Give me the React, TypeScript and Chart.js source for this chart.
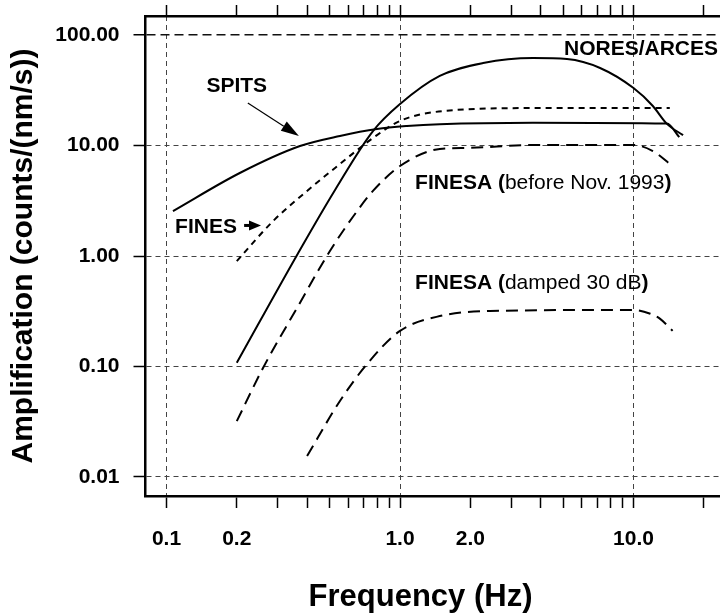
import React, { useEffect, useRef } from 'react';
import Chart from 'chart.js/auto';

// ---- data ----
const noresX = [0.2, 0.366, 0.527, 0.766, 1.0, 1.48, 2.27, 3.71, 5.19, 7.19, 10, 12.1, 13.9, 16.3];
const noresY = [0.108, 1.06, 3.96, 13.5, 23.7, 42.6, 55.8, 61.9, 60.6, 50.3, 33.1, 22.8, 15.7, 12.4];

const spitsX = [0.1066, 0.206, 0.373, 0.553, 0.797, 1.07, 1.48, 3.71, 13.9, 15.7];
const spitsY = [2.55, 5.64, 9.89, 12.2, 14.1, 15.0, 15.6, 16.1, 15.8, 11.9];

const finesX = [0.2, 0.286, 0.4, 0.553, 0.766, 1.0, 1.53, 3.71, 14.3];
const finesY = [0.9, 2.07, 3.88, 6.8, 11.7, 16.7, 20.5, 21.8, 21.8];

const finesaX = [0.2, 0.259, 0.362, 0.501, 0.655, 0.766, 1.0, 1.48, 1.94, 3.71, 10, 12.1, 14.7];
const finesaY = [0.032, 0.097, 0.338, 1.11, 2.55, 3.88, 6.52, 9.3, 9.5, 10.1, 10.1, 8.9, 6.5];

const dampedX = [0.4, 0.553, 0.722, 1.0, 1.48, 2.43, 10, 11.8, 13.0, 14.7];
const dampedY = [0.0155, 0.0487, 0.105, 0.21, 0.286, 0.318, 0.325, 0.3, 0.27, 0.21];

const xTicks = [0.1, 0.2, 0.3, 0.4, 0.5, 0.6, 0.7, 0.8, 0.9, 1, 2, 3, 4, 5, 6, 7, 8, 9, 10, 20];
const xTickLabels = ['0.1', '0.2', '', '', '', '', '', '', '', '1.0', '2.0', '', '', '', '', '', '', '', '10.0', ''];
const xGridValues = [0.1, 1, 10];

const yTicks = [0.01, 0.1, 1, 10, 100];
const yTickLabels = ['0.01', '0.10', '1.00', '10.00', '100.00'];

const X_MIN = 0.0813;
const X_MAX = 23.46;
const Y_MIN = 0.00673;
const Y_MAX = 148.6;

const FONT = '"Liberation Sans", Arial, Helvetica, sans-serif';

const pts = (xs: number[], ys: number[]) => xs.map((x, i) => ({ x, y: ys[i] }));

function drawArrow(ctx: CanvasRenderingContext2D, x1: number, y1: number, x2: number, y2: number, headLen: number, headW: number, lw: number) {
  const ang = Math.atan2(y2 - y1, x2 - x1);
  const bx = x2 - headLen * Math.cos(ang);
  const by = y2 - headLen * Math.sin(ang);
  ctx.save();
  ctx.strokeStyle = '#000';
  ctx.fillStyle = '#000';
  ctx.lineWidth = lw;
  ctx.beginPath();
  ctx.moveTo(x1, y1);
  ctx.lineTo(bx, by);
  ctx.stroke();
  ctx.beginPath();
  ctx.moveTo(x2, y2);
  ctx.lineTo(bx + (headW / 2) * Math.sin(ang), by - (headW / 2) * Math.cos(ang));
  ctx.lineTo(bx - (headW / 2) * Math.sin(ang), by + (headW / 2) * Math.cos(ang));
  ctx.closePath();
  ctx.fill();
  ctx.restore();
}

function drawMixed(ctx: CanvasRenderingContext2D, x: number, y: number, parts: [string, boolean][], size: number) {
  let cx = x;
  for (const [t, bold] of parts) {
    ctx.font = `${bold ? 'bold ' : ''}${size}px ${FONT}`;
    ctx.fillText(t, cx, y);
    cx += ctx.measureText(t).width;
  }
}

const annotations = {
  id: 'annotations',
  afterDatasetsDraw(chart: any) {
    const { ctx, scales, chartArea } = chart;
    const sx = scales.x;
    const sy = scales.y;
    const px = (v: number) => sx.getPixelForValue(v);
    const py = (v: number) => sy.getPixelForValue(v);
    ctx.save();
    ctx.fillStyle = '#000';
    ctx.textBaseline = 'middle';

    ctx.textAlign = 'right';
    ctx.font = `bold 21px ${FONT}`;
    ctx.fillText('NORES/ARCES', px(23.0), py(75));

    ctx.textAlign = 'center';
    ctx.fillText('SPITS', px(0.2), py(34.5));
    drawArrow(ctx, px(0.223), py(24.2), px(0.369), py(12.2), 18, 11, 1.2);

    ctx.textAlign = 'left';
    ctx.fillText('FINES', px(0.1088), py(1.83));
    drawArrow(ctx, px(0.215), py(1.89), px(0.254), py(1.89), 12, 10, 3);

    drawMixed(ctx, px(1.16), py(4.58), [['FINESA (', true], ['before Nov. 1993', false], [')', true]], 21);
    drawMixed(ctx, px(1.16), py(0.57), [['FINESA (', true], ['damped 30 dB', false], [')', true]], 21);

    // x-axis title
    ctx.textAlign = 'center';
    ctx.textBaseline = 'alphabetic';
    ctx.font = `bold 31px ${FONT}`;
    ctx.fillText('Frequency (Hz)', chartArea.left + 275, chart.height - 7);
    ctx.restore();
  },
};

export default function App() {
  const ref = useRef<HTMLCanvasElement | null>(null);

  useEffect(() => {
    const canvas = ref.current;
    if (!canvas) return;
    const tickFont = { family: FONT, size: 21, weight: 'bold' as const };
    const setX = (s: any) => {
      s.ticks = xTicks.map((v) => ({ value: v }));
    };
    const chart = new Chart(canvas, {
      type: 'line',
      data: {
        datasets: [
          { label: 'NORES/ARCES', data: pts(noresX, noresY), borderColor: '#000', borderWidth: 2, pointRadius: 0, cubicInterpolationMode: 'monotone', fill: false },
          { label: 'SPITS', data: pts(spitsX, spitsY), borderColor: '#000', borderWidth: 2, pointRadius: 0, cubicInterpolationMode: 'monotone', fill: false },
          { label: 'FINES', data: pts(finesX, finesY), borderColor: '#000', borderWidth: 2, borderDash: [6, 5], pointRadius: 0, cubicInterpolationMode: 'monotone', fill: false },
          { label: 'FINESA (before Nov. 1993)', data: pts(finesaX, finesaY), borderColor: '#000', borderWidth: 2, borderDash: [12, 7], pointRadius: 0, cubicInterpolationMode: 'monotone', fill: false },
          { label: 'FINESA (damped 30 dB)', data: pts(dampedX, dampedY), borderColor: '#000', borderWidth: 2, borderDash: [12, 7], pointRadius: 0, cubicInterpolationMode: 'monotone', fill: false },
        ],
      },
      options: {
        animation: false,
        responsive: false,
        devicePixelRatio: 1,
        layout: { padding: 0 },
        plugins: { legend: { display: false }, tooltip: { enabled: false } },
        scales: {
          x: {
            type: 'logarithmic',
            position: 'bottom',
            min: X_MIN,
            max: X_MAX,
            afterBuildTicks: setX,
            afterFit: (s: any) => {
              s.height = 117;
              s.paddingLeft = 0;
              s.paddingRight = 0;
            },
            ticks: {
              autoSkip: false,
              maxRotation: 0,
              color: '#000',
              font: tickFont,
              padding: 19,
              callback: (_v: any, i: number) => xTickLabels[i],
            },
            grid: {
              color: (c: any) => (c.tick && xGridValues.includes(c.tick.value) ? '#444' : 'rgba(0,0,0,0)'),
              lineWidth: 1,
              tickLength: 12,
              tickColor: '#000',
              tickWidth: 1.5,
            },
            border: { display: true, color: '#000', width: 2.5, dash: [5, 4] },
          },
          x2: {
            type: 'logarithmic',
            position: 'top',
            min: X_MIN,
            max: X_MAX,
            afterBuildTicks: setX,
            afterFit: (s: any) => {
              s.height = 16;
              s.paddingLeft = 0;
              s.paddingRight = 0;
            },
            ticks: { display: false, autoSkip: false },
            grid: { drawOnChartArea: false, tickLength: 11, tickColor: '#000', tickWidth: 1.5 },
            border: { display: true, color: '#000', width: 2.5 },
          },
          y: {
            type: 'logarithmic',
            position: 'left',
            min: Y_MIN,
            max: Y_MAX,
            afterBuildTicks: (s: any) => {
              s.ticks = yTicks.map((v) => ({ value: v }));
            },
            afterFit: (s: any) => {
              s.width = 145.5;
              s.paddingTop = 0;
              s.paddingBottom = 0;
            },
            ticks: {
              autoSkip: false,
              color: '#000',
              font: tickFont,
              padding: 14,
              callback: (_v: any, i: number) => yTickLabels[i],
            },
            grid: {
              color: (c: any) => (c.tick && c.tick.value === 100 ? '#111' : '#444'),
              lineWidth: (c: any) => (c.tick && c.tick.value === 100 ? 1.5 : 1),
              tickLength: 12,
              tickColor: '#000',
              tickWidth: 1.5,
            },
            border: {
              display: true,
              color: '#000',
              width: 2.5,
              dash: (c: any) => (c.tick && c.tick.value === 100 ? [9, 5] : [5, 4]),
            },
            title: {
              display: true,
              text: 'Amplification (counts/(nm/s))',
              color: '#000',
              font: { family: FONT, size: 30, weight: 'bold' },
              padding: { top: 6, bottom: 0 },
            },
          },
        },
      },
      plugins: [annotations],
    } as any);
    return () => chart.destroy();
  }, []);

  return (
    <div style={{ position: 'fixed', left: 0, top: 0, width: 720, height: 613, background: '#fff' }}>
      <canvas ref={ref} width={720} height={613} style={{ display: 'block' }} />
    </div>
  );
}
